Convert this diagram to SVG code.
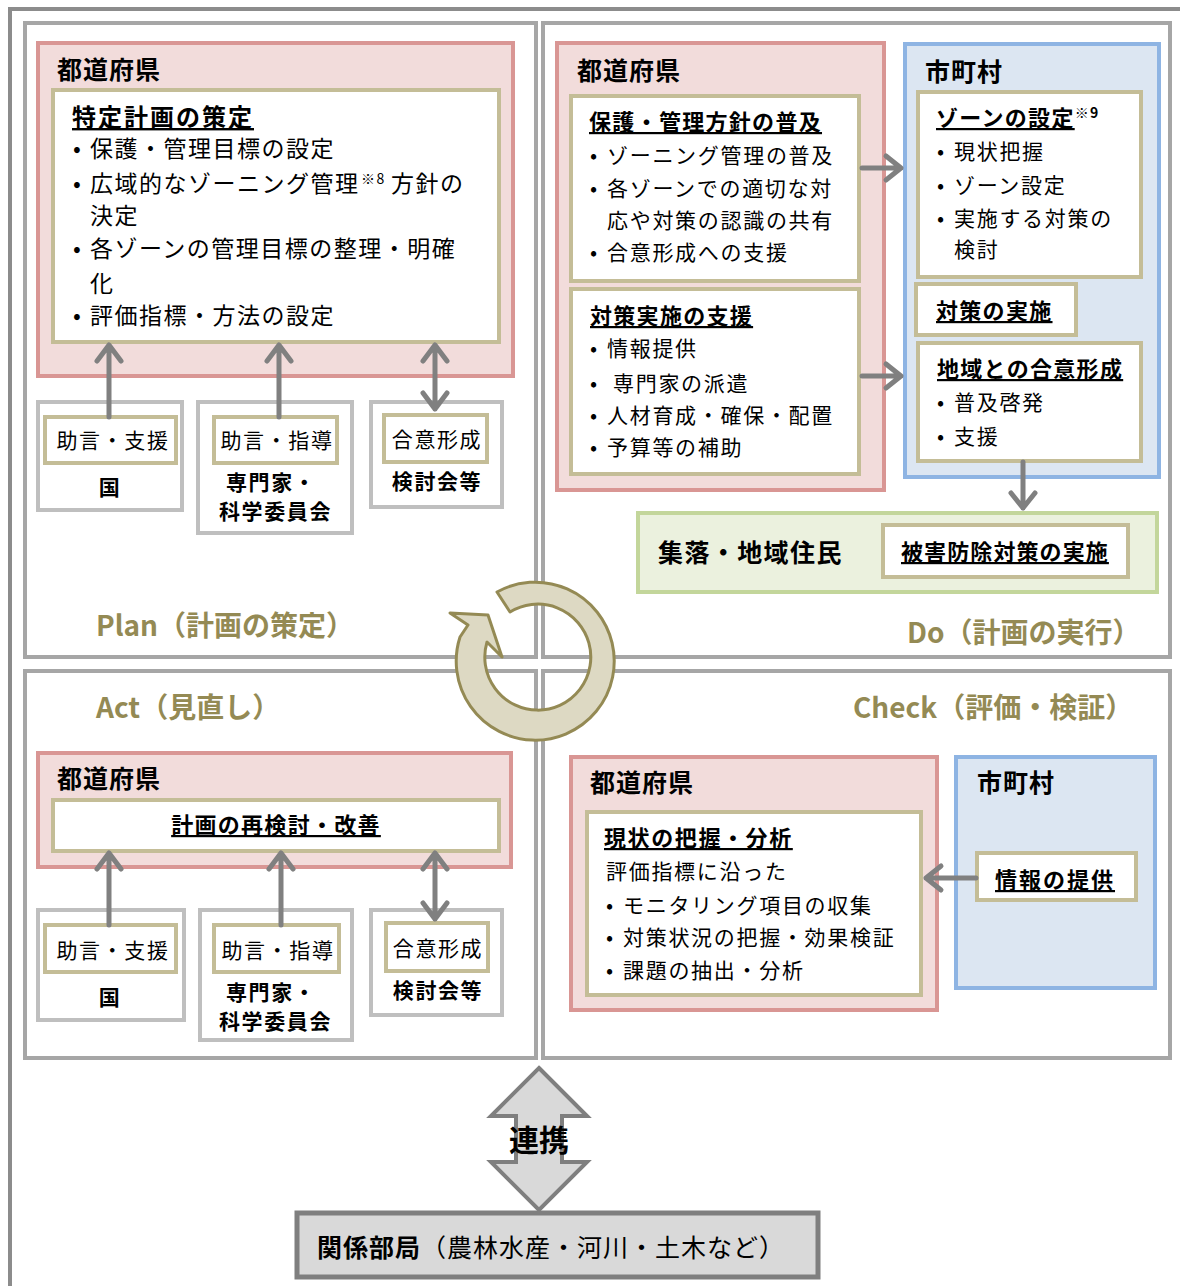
<svg xmlns="http://www.w3.org/2000/svg" width="1180" height="1286" viewBox="0 0 1180 1286">
<style>
text{font-family:"Noto Sans CJK JP","Noto Sans",sans-serif;fill:#000}
.quad{fill:#fff;stroke:#a6a6a6;stroke-width:4}
.pref{fill:#f2dcdb;stroke:#d99694;stroke-width:4}
.muni{fill:#dce6f2;stroke:#8eb4e3;stroke-width:4}
.comm{fill:#ebf1de;stroke:#c3d69b;stroke-width:4}
.inner{fill:#fff;stroke:#c4bd97;stroke-width:4}
.gbox{fill:#fff;stroke:#bfbfbf;stroke-width:4}
.ttl{font-size:25px;font-weight:700;letter-spacing:1px}
.h1{font-size:24px;font-weight:700;letter-spacing:2px;text-decoration:underline}
.h2{font-size:22px;font-weight:700;letter-spacing:1.3px;text-decoration:underline}
.h2n{font-size:22px;font-weight:700;letter-spacing:1.3px}
.ul{text-decoration:underline}
.b1{font-size:23px;letter-spacing:1.5px}
.b2{font-size:21px;letter-spacing:1.7px}
.sm{font-size:21px;letter-spacing:1.6px}
.smb{font-size:21px;font-weight:700;letter-spacing:1.6px}
.sup{font-size:14px}
.phase{font-size:28px;font-weight:700;fill:#948a54}
.arr{fill:none;stroke:#808080;stroke-width:5;stroke-linecap:round;stroke-linejoin:round}
.mid{text-anchor:middle}
</style>

<rect x="10" y="9" width="1200" height="1300" fill="none" stroke="#8c8c8c" stroke-width="4"/>

<g id="quadrants">
<rect class="quad" x="25" y="23" width="511" height="634"/>
<rect class="quad" x="543" y="23" width="627" height="634"/>
<rect class="quad" x="25" y="671" width="511" height="387"/>
<rect class="quad" x="543" y="671" width="627" height="387"/>
</g>

<!-- PLAN -->
<g id="plan-pref">
<rect class="pref" x="38" y="43" width="475" height="333"/>
<text class="ttl" x="57" y="79">都道府県</text>
</g>
<g id="plan-strategy">
<rect class="inner" x="53" y="90" width="446" height="252"/>
<text class="h1" x="72" y="126">特定計画の策定</text>
<text class="b1" y="157"><tspan x="73">•</tspan><tspan x="90">保護・管理目標の設定</tspan></text>
<text class="b1" y="192"><tspan x="73">•</tspan><tspan x="90">広域的なゾーニング管理</tspan><tspan class="sup" x="361" dy="-8">※8</tspan><tspan x="391" dy="8">方針の</tspan></text>
<text class="b1" x="90" y="224">決定</text>
<text class="b1" y="257"><tspan x="73">•</tspan><tspan x="90">各ゾーンの管理目標の整理・明確</tspan></text>
<text class="b1" x="90" y="292">化</text>
<text class="b1" y="324"><tspan x="73">•</tspan><tspan x="90">評価指標・方法の設定</tspan></text>
</g>
<g id="plan-kuni">
<rect class="gbox" x="38" y="402" width="144" height="108"/>
<rect class="inner" x="45" y="417" width="131" height="46"/>
<text class="sm mid" x="113" y="448">助言・支援</text>
<text class="smb mid" x="110" y="495">国</text>
</g>
<g id="plan-expert">
<rect class="gbox" x="198" y="402" width="154" height="131"/>
<rect class="inner" x="214" y="417" width="123" height="46"/>
<text class="sm mid" x="277" y="448">助言・指導</text>
<text class="smb" x="226" y="490">専門家・</text>
<text class="smb" x="219" y="519">科学委員会</text>
</g>
<g id="plan-council">
<rect class="gbox" x="371" y="402" width="131" height="105"/>
<rect class="inner" x="384" y="415" width="103" height="47"/>
<text class="sm mid" x="437" y="447">合意形成</text>
<text class="smb mid" x="437" y="489">検討会等</text>
</g>
<text class="phase" x="96" y="636">Plan（計画の策定）</text>

<!-- DO -->
<g id="do-pref">
<rect class="pref" x="557" y="43" width="327" height="447"/>
<text class="ttl" x="577" y="80">都道府県</text>
</g>
<g id="do-policy">
<rect class="inner" x="571" y="96" width="288" height="185"/>
<text class="h2" x="589" y="130">保護・管理方針の普及</text>
<text class="b2" y="163"><tspan x="590">•</tspan><tspan x="607">ゾーニング管理の普及</tspan></text>
<text class="b2" y="196"><tspan x="590">•</tspan><tspan x="607">各ゾーンでの適切な対</tspan></text>
<text class="b2" x="607" y="228">応や対策の認識の共有</text>
<text class="b2" y="260"><tspan x="590">•</tspan><tspan x="607">合意形成への支援</tspan></text>
</g>
<g id="do-support">
<rect class="inner" x="571" y="289" width="288" height="185"/>
<text class="h2" x="590" y="324">対策実施の支援</text>
<text class="b2" y="356"><tspan x="590">•</tspan><tspan x="607">情報提供</tspan></text>
<text class="b2" y="391"><tspan x="590">•</tspan><tspan x="613">専門家の派遣</tspan></text>
<text class="b2" y="423"><tspan x="590">•</tspan><tspan x="607">人材育成・確保・配置</tspan></text>
<text class="b2" y="455"><tspan x="590">•</tspan><tspan x="607">予算等の補助</tspan></text>
</g>
<g id="do-muni">
<rect class="muni" x="905" y="44" width="254" height="433"/>
<text class="ttl" x="925" y="81">市町村</text>
</g>
<g id="do-zone">
<rect class="inner" x="918" y="92" width="223" height="185"/>
<text class="h2n" x="936" y="126"><tspan class="ul">ゾーンの設定</tspan><tspan class="sup" dy="-8">※9</tspan></text>
<text class="b2" y="159"><tspan x="937">•</tspan><tspan x="954">現状把握</tspan></text>
<text class="b2" y="193"><tspan x="937">•</tspan><tspan x="954">ゾーン設定</tspan></text>
<text class="b2" y="226"><tspan x="937">•</tspan><tspan x="954">実施する対策の</tspan></text>
<text class="b2" x="954" y="257">検討</text>
</g>
<g id="do-implement">
<rect class="inner" x="916" y="284" width="160" height="51"/>
<text class="h2" x="936" y="319">対策の実施</text>
</g>
<g id="do-consensus">
<rect class="inner" x="918" y="343" width="223" height="118"/>
<text class="h2" x="937" y="377">地域との合意形成</text>
<text class="b2" y="410"><tspan x="937">•</tspan><tspan x="954">普及啓発</tspan></text>
<text class="b2" y="444"><tspan x="937">•</tspan><tspan x="954">支援</tspan></text>
</g>
<g id="do-residents">
<rect class="comm" x="638" y="513" width="519" height="79"/>
<text class="ttl" x="658" y="562" style="letter-spacing:1.4px">集落・地域住民</text>
<rect class="inner" x="883" y="525" width="245" height="52"/>
<text class="h2" x="901" y="560" style="letter-spacing:1.1px">被害防除対策の実施</text>
</g>
<text class="phase" x="907" y="643">Do（計画の実行）</text>

<!-- ACT -->
<text class="phase" x="96" y="718">Act（見直し）</text>
<g id="act-pref">
<rect class="pref" x="38" y="753" width="473" height="114"/>
<text class="ttl" x="57" y="788">都道府県</text>
<rect class="inner" x="53" y="800" width="446" height="51"/>
<text class="h2 mid" x="276" y="833">計画の再検討・改善</text>
</g>
<g id="act-kuni">
<rect class="gbox" x="38" y="910" width="146" height="110"/>
<rect class="inner" x="45" y="925" width="131" height="47"/>
<text class="sm mid" x="113" y="958">助言・支援</text>
<text class="smb mid" x="110" y="1005">国</text>
</g>
<g id="act-expert">
<rect class="gbox" x="200" y="910" width="152" height="130"/>
<rect class="inner" x="214" y="925" width="125" height="47"/>
<text class="sm mid" x="278" y="958">助言・指導</text>
<text class="smb" x="226" y="1000">専門家・</text>
<text class="smb" x="219" y="1029">科学委員会</text>
</g>
<g id="act-council">
<rect class="gbox" x="371" y="910" width="131" height="105"/>
<rect class="inner" x="386" y="923" width="102" height="48"/>
<text class="sm mid" x="438" y="956">合意形成</text>
<text class="smb mid" x="438" y="998">検討会等</text>
</g>

<!-- CHECK -->
<text class="phase" x="853" y="718">Check（評価・検証）</text>
<g id="check-pref">
<rect class="pref" x="571" y="757" width="366" height="253"/>
<text class="ttl" x="590" y="792">都道府県</text>
<rect class="inner" x="587" y="812" width="334" height="183"/>
<text class="h2" x="604" y="846" style="letter-spacing:1.6px">現状の把握・分析</text>
<text class="b2" x="606" y="879">評価指標に沿った</text>
<text class="b2" y="913"><tspan x="606">•</tspan><tspan x="623">モニタリング項目の収集</tspan></text>
<text class="b2" y="945"><tspan x="606">•</tspan><tspan x="623">対策状況の把握・効果検証</tspan></text>
<text class="b2" y="978"><tspan x="606">•</tspan><tspan x="623">課題の抽出・分析</tspan></text>
</g>
<g id="check-muni">
<rect class="muni" x="956" y="757" width="199" height="231"/>
<text class="ttl" x="977" y="792">市町村</text>
<rect class="inner" x="977" y="853" width="159" height="47"/>
<text class="h2" x="995" y="888" style="letter-spacing:2px">情報の提供</text>
</g>

<!-- connectors -->
<g id="connectors">
<path class="arr" d="M109 417V345M97 361L109 345L121 361"/>
<path class="arr" d="M279 417V345M267 361L279 345L291 361"/>
<path class="arr" d="M435 345V409M423 361L435 345L447 361M423 393L435 409L447 393"/>
<path class="arr" d="M862 168H901M886 156L901 168L886 180"/>
<path class="arr" d="M862 376H901M886 364L901 376L886 388"/>
<path class="arr" d="M1023 462V508M1011 493L1023 508L1035 493"/>
<path class="arr" d="M109 925V853M97 869L109 853L121 869"/>
<path class="arr" d="M281 925V853M269 869L281 853L293 869"/>
<path class="arr" d="M435 853V919M423 869L435 853L447 869M423 903L435 919L447 903"/>
<path class="arr" d="M976 878H926M941 866L926 878L941 890"/>
</g>

<g id="cycle">
<path d="M497 592A79 79 0 1 1 460 637L468 625L450 613L488 615L502 657L487 642A53 53 0 1 0 510 612Z" fill="#ddd9c3" stroke="#948a54" stroke-width="3" stroke-linejoin="round"/>
</g>

<g id="link">
<polygon points="539,1068 587,1116 562,1116 562,1162 587,1162 539,1210 491,1162 516,1162 516,1116 491,1116" fill="#d9d9d9" stroke="#7f7f7f" stroke-width="4"/>
<text x="539" y="1151" font-size="30" font-weight="700" text-anchor="middle">連携</text>
</g>

<g id="departments">
<rect x="297" y="1213" width="521" height="64" fill="#d9d9d9" stroke="#7f7f7f" stroke-width="5"/>
<text x="317" y="1257" font-size="25" letter-spacing="1"><tspan font-weight="700">関係部局</tspan>（農林水産・河川・土木など）</text>
</g>
</svg>
